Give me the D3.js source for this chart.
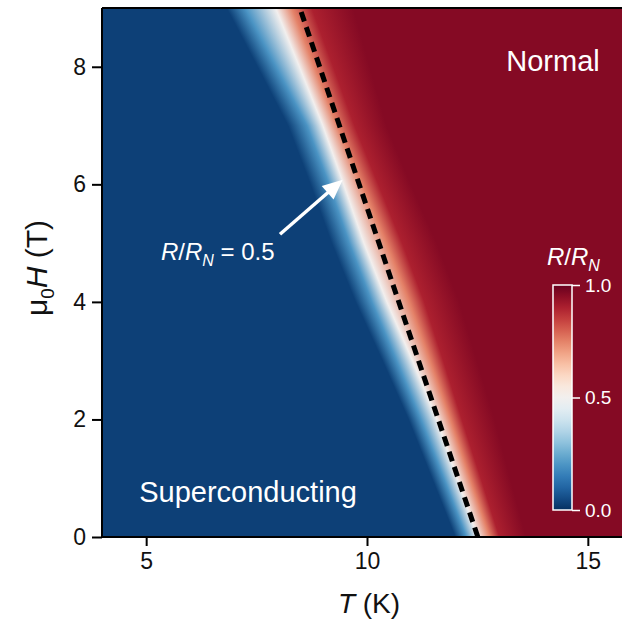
<!DOCTYPE html>
<html><head><meta charset="utf-8">
<script src="https://cdn.jsdelivr.net/npm/d3@7"></script>
<style>html,body{margin:0;padding:0;background:#fff;}svg{display:block;font-family:"Liberation Sans",Arial,sans-serif;}</style>
</head><body>
<script>
// ---- data ----
// magnetic fields (T) at which the transition was read
const fields = [0, 1, 2, 3, 4, 5, 6, 7, 8, 9];
// R/R_N levels
const rLevels = [0.03, 0.2, 0.5, 0.75, 0.9, 0.96];
// temperature (K) at which each level is reached, one row per field
const tAtLevel = [
  [12.00, 12.25, 12.50, 12.78, 13.00, 13.60],
  [11.47, 11.74, 12.04, 12.33, 12.58, 13.24],
  [10.94, 11.22, 11.58, 11.89, 12.15, 12.89],
  [10.35, 10.67, 11.03, 11.43, 11.73, 12.49],
  [ 9.74, 10.11, 10.45, 10.96, 11.30, 12.09],
  [ 9.20,  9.60,  9.93, 10.44, 10.80, 11.58],
  [ 8.72,  9.14,  9.47,  9.88, 10.26, 10.99],
  [ 8.21,  8.64,  9.00,  9.32,  9.72, 10.44],
  [ 7.52,  7.94,  8.47,  8.81,  9.24, 10.06],
  [ 6.82,  7.24,  7.93,  8.30,  8.75,  9.69]
];
// dashed Tc(H) line
const tcLineT = [12.51, 8.48];
const tcLineH = [0, 9];
// ticks
const xTicks = [5, 10, 15];
const yTicks = [0, 2, 4, 6, 8];
const cbTicks = [0.0, 0.5, 1.0];
// annotation arrow (T, H)
const arrowT = [8.03, 9.45];
const arrowH = [5.15, 6.08];

// ---- layout ----
const W = 622, H = 622;
const L = 102, R = 622, T = 8, B = 537;
const x = d3.scaleLinear().domain([4, 16]).range([102, 632]);
const y = d3.scaleLinear().domain([0, 9]).range([537, 8]);
const color = t => d3.interpolateRdBu(1 - Math.max(0, Math.min(1, t)));

const svg = d3.select("body").append("svg").attr("width", W).attr("height", H);
const defs = svg.append("defs");
defs.append("clipPath").attr("id", "plotclip").append("rect")
  .attr("x", L).attr("y", T).attr("width", R - L).attr("height", B - T);

// ---- heatmap: one thin strip per pixel row, coloured by a gradient through the level temperatures ----
const heat = svg.append("g").attr("clip-path", "url(#plotclip)");
const x0 = L, x1 = R;
function levelsAt(h) {
  h = Math.max(fields[0], Math.min(fields[fields.length - 1], h));
  let i = d3.bisectRight(fields, h) - 1;
  if (i >= fields.length - 1) i = fields.length - 2;
  const f = (h - fields[i]) / (fields[i + 1] - fields[i]);
  return rLevels.map((_, k) => tAtLevel[i][k] * (1 - f) + tAtLevel[i + 1][k] * f);
}
for (let py = T; py < B; py++) {
  const h = y.invert(py + 0.5);
  const ts = levelsAt(h);
  const id = "g" + py;
  const g = defs.append("linearGradient").attr("id", id)
    .attr("gradientUnits", "userSpaceOnUse")
    .attr("x1", x0).attr("x2", x1).attr("y1", 0).attr("y2", 0);
  ts.forEach((tv, k) => {
    const off = Math.max(0, Math.min(1, (x(tv) - x0) / (x1 - x0)));
    g.append("stop").attr("offset", off).attr("stop-color", color(rLevels[k]));
  });
  heat.append("rect").attr("x", x0).attr("y", py).attr("width", x1 - x0).attr("height", 1.2)
    .attr("fill", `url(#${id})`);
}

// ---- dashed Tc line ----
svg.append("g").attr("clip-path", "url(#plotclip)").append("path")
  .datum(tcLineT.map((t, i) => [t, tcLineH[i]]))
  .attr("d", d3.line().x(d => x(d[0])).y(d => y(d[1])))
  .attr("fill", "none").attr("stroke", "#000").attr("stroke-width", 5)
  .attr("stroke-dasharray", "10,6");

// ---- axes ----
const ax = svg.append("g").attr("transform", `translate(0,${B})`)
  .call(d3.axisBottom(x).tickValues(xTicks).tickSize(9).tickPadding(7).tickFormat(d3.format("d")));
ax.select(".domain").remove();
ax.append("line").attr("x1", L).attr("x2", R).attr("y1", 0).attr("y2", 0).attr("stroke", "#000").attr("stroke-width", 2);
ax.selectAll(".tick line").attr("stroke-width", 2);
ax.selectAll(".tick text").attr("font-size", 23).attr("fill", "#111");

const ay = svg.append("g").attr("transform", `translate(${L},0)`)
  .call(d3.axisLeft(y).tickValues(yTicks).tickSize(10).tickPadding(6).tickFormat(d3.format("d")));
ay.select(".domain").remove();
ay.append("line").attr("x1", 0).attr("x2", 0).attr("y1", T).attr("y2", B).attr("stroke", "#000").attr("stroke-width", 2);
ay.selectAll(".tick line").attr("stroke-width", 2);
ay.selectAll(".tick text").attr("font-size", 23).attr("fill", "#111");

// top border
svg.append("line").attr("x1", L).attr("x2", R).attr("y1", T).attr("y2", T).attr("stroke", "#000").attr("stroke-width", 2);

// axis titles
const xt = svg.append("text").attr("x", 369).attr("y", 613).attr("text-anchor", "middle")
  .attr("font-size", 28).attr("fill", "#111");
xt.append("tspan").attr("font-style", "italic").text("T");
xt.append("tspan").text(" (K)");

const yt = svg.append("text").attr("transform", "translate(47,268) rotate(-90)")
  .attr("text-anchor", "middle").attr("font-size", 30).attr("fill", "#111");
yt.append("tspan").text("μ");
yt.append("tspan").attr("font-size", 19).attr("dy", 7).text("0");
yt.append("tspan").attr("font-style", "italic").attr("dy", -7).text("H");
yt.append("tspan").text(" (T)");

// ---- labels inside plot ----
svg.append("text").attr("x", 553).attr("y", 71).attr("text-anchor", "middle")
  .attr("font-size", 29).attr("fill", "#fff").text("Normal");
svg.append("text").attr("x", 248).attr("y", 502).attr("text-anchor", "middle")
  .attr("font-size", 29).attr("fill", "#fff").text("Superconducting");

const ann = svg.append("text").attr("x", 161).attr("y", 260).attr("font-size", 24).attr("fill", "#fff");
ann.append("tspan").attr("font-style", "italic").text("R");
ann.append("tspan").text("/");
ann.append("tspan").attr("font-style", "italic").text("R");
ann.append("tspan").attr("font-style", "italic").attr("font-size", 16).attr("dy", 6).text("N");
ann.append("tspan").attr("dy", -6).text(" = 0.5");

// arrow
const ax0 = x(arrowT[0]), ay0 = y(arrowH[0]), ax1 = x(arrowT[1]), ay1 = y(arrowH[1]);
const ang = Math.atan2(ay1 - ay0, ax1 - ax0);
const hl = 20, hw = 9;
const bx = ax1 - hl * Math.cos(ang), by = ay1 - hl * Math.sin(ang);
svg.append("line").attr("x1", ax0).attr("y1", ay0).attr("x2", bx + 2 * Math.cos(ang)).attr("y2", by + 2 * Math.sin(ang))
  .attr("stroke", "#fff").attr("stroke-width", 3.5);
svg.append("polygon").attr("fill", "#fff").attr("points", [
  [ax1, ay1],
  [bx - hw * Math.sin(ang), by + hw * Math.cos(ang)],
  [bx + hw * Math.sin(ang), by - hw * Math.cos(ang)]
].map(p => p.join(",")).join(" "));

// ---- colour bar ----
const cbX = 553, cbW = 19, cbTop = 285, cbBot = 510;
const cy = d3.scaleLinear().domain([0, 1]).range([cbBot, cbTop]);
const cg = defs.append("linearGradient").attr("id", "cbgrad").attr("x1", 0).attr("x2", 0).attr("y1", 1).attr("y2", 0);
d3.range(0, 1.0001, 0.05).forEach(v => cg.append("stop").attr("offset", v).attr("stop-color", color(v)));
svg.append("rect").attr("x", cbX).attr("y", cbTop).attr("width", cbW).attr("height", cbBot - cbTop)
  .attr("fill", "url(#cbgrad)").attr("stroke", "#fff").attr("stroke-width", 1.5);
const cba = svg.append("g").attr("transform", `translate(${cbX + cbW},0)`)
  .call(d3.axisRight(cy).tickValues(cbTicks).tickSize(8).tickPadding(5).tickFormat(d3.format(".1f")));
cba.select(".domain").remove();
cba.selectAll(".tick line").attr("stroke", "#fff").attr("stroke-width", 1.5);
cba.selectAll(".tick text").attr("fill", "#fff").attr("font-size", 19);

const cbt = svg.append("text").attr("x", 547).attr("y", 265).attr("font-size", 24).attr("fill", "#fff");
cbt.append("tspan").attr("font-style", "italic").text("R");
cbt.append("tspan").text("/");
cbt.append("tspan").attr("font-style", "italic").text("R");
cbt.append("tspan").attr("font-style", "italic").attr("font-size", 16).attr("dy", 6).text("N");
</script>
</body></html>
